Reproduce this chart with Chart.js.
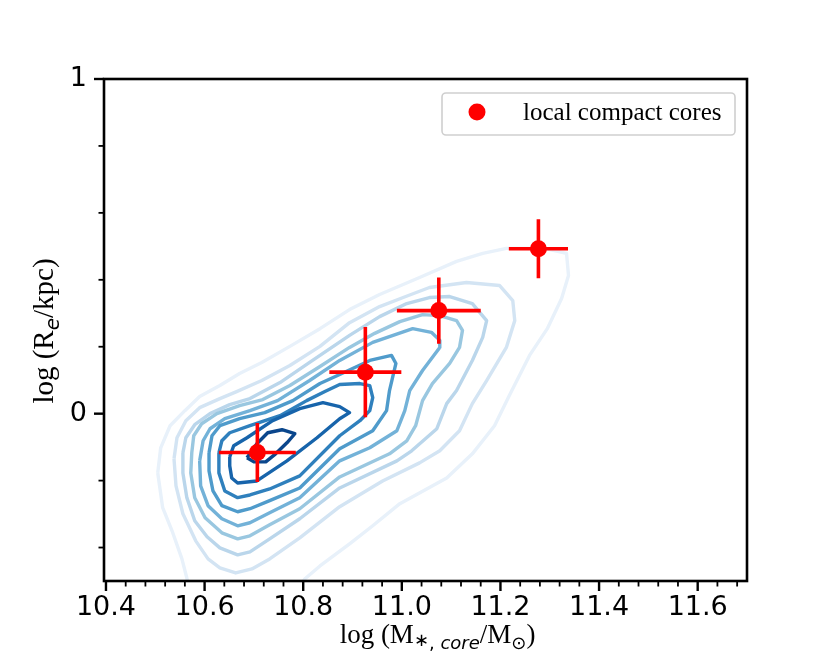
<!DOCTYPE html>
<html lang="en">
<head>
<meta charset="UTF-8">
<title>Compact cores: size vs core mass</title>
<script src="https://cdn.jsdelivr.net/npm/chart.js"></script>
<style>
  html, body { margin: 0; padding: 0; background: #fff; }
</style>
</head>
<body>
<canvas id="sizeMass" width="830" height="664"></canvas>
<script>
// local compact cores: log core mass, log Re and their errors
const coreMass    = [10.707, 10.926, 11.075, 11.277];
const coreMassErr = [0.078, 0.073, 0.085, 0.060];
const coreRe      = [-0.116, 0.124, 0.308, 0.493];
const coreReErr   = [0.088, 0.135, 0.099, 0.088];

// density contours of the comparison sample, outermost (lightest) first
const kdeLevel1 = [[10.505,-0.177],[10.511,-0.102],[10.530,-0.036],[10.560,0.009],[10.590,0.051],[10.631,0.084],[10.671,0.120],[10.716,0.153],[10.773,0.201],[10.834,0.254],[10.894,0.311],[10.955,0.356],[11.036,0.407],[11.111,0.455],[11.164,0.479],[11.212,0.494],[11.289,0.494],[11.334,0.479],[11.338,0.413],[11.324,0.344],[11.295,0.254],[11.259,0.174],[11.218,0.054],[11.188,-0.036],[11.143,-0.120],[11.091,-0.192],[10.996,-0.269],[10.941,-0.335],[10.894,-0.389],[10.834,-0.455],[10.803,-0.494],[10.777,-0.560],[10.574,-0.560],[10.564,-0.491],[10.554,-0.434],[10.534,-0.350],[10.515,-0.281]];
const kdeLevel2 = [[10.538,-0.135],[10.544,-0.072],[10.562,-0.021],[10.590,0.018],[10.631,0.045],[10.665,0.066],[10.716,0.099],[10.773,0.144],[10.834,0.201],[10.894,0.272],[10.955,0.320],[11.008,0.350],[11.056,0.377],[11.131,0.392],[11.198,0.383],[11.225,0.338],[11.229,0.278],[11.212,0.198],[11.172,0.099],[11.143,0.030],[11.117,-0.051],[11.077,-0.111],[11.036,-0.147],[10.961,-0.201],[10.874,-0.278],[10.793,-0.371],[10.732,-0.434],[10.696,-0.464],[10.663,-0.476],[10.631,-0.461],[10.607,-0.434],[10.582,-0.380],[10.556,-0.299],[10.542,-0.216]];
const kdeLevel3 = [[10.556,-0.117],[10.562,-0.072],[10.580,-0.033],[10.611,0.000],[10.651,0.027],[10.692,0.045],[10.753,0.093],[10.813,0.153],[10.894,0.234],[10.955,0.290],[11.010,0.329],[11.056,0.347],[11.097,0.350],[11.143,0.329],[11.172,0.278],[11.164,0.228],[11.143,0.159],[11.111,0.069],[11.091,0.030],[11.071,-0.045],[11.020,-0.111],[10.990,-0.141],[10.874,-0.222],[10.793,-0.314],[10.732,-0.374],[10.692,-0.413],[10.667,-0.422],[10.631,-0.401],[10.605,-0.368],[10.580,-0.320],[10.564,-0.251],[10.556,-0.177]];
const kdeLevel4 = [[10.574,-0.117],[10.578,-0.066],[10.594,-0.030],[10.625,0.000],[10.671,0.024],[10.718,0.042],[10.773,0.084],[10.834,0.141],[10.894,0.198],[10.945,0.240],[10.996,0.275],[11.042,0.296],[11.077,0.293],[11.111,0.278],[11.123,0.249],[11.117,0.198],[11.097,0.150],[11.062,0.090],[11.042,0.039],[11.028,-0.036],[11.010,-0.081],[10.975,-0.120],[10.874,-0.189],[10.793,-0.284],[10.732,-0.332],[10.692,-0.365],[10.667,-0.374],[10.635,-0.356],[10.601,-0.311],[10.580,-0.251],[10.572,-0.177]];
const kdeLevel5 = [[10.590,-0.141],[10.597,-0.081],[10.611,-0.045],[10.641,-0.015],[10.692,0.009],[10.748,0.039],[10.813,0.099],[10.874,0.159],[10.941,0.213],[11.022,0.254],[11.060,0.243],[11.077,0.219],[11.077,0.198],[11.042,0.129],[11.016,0.069],[11.006,0.009],[10.990,-0.051],[10.935,-0.102],[10.874,-0.141],[10.793,-0.251],[10.732,-0.296],[10.692,-0.326],[10.667,-0.335],[10.635,-0.314],[10.607,-0.275],[10.592,-0.216]];
const kdeLevel6 = [[10.609,-0.117],[10.615,-0.066],[10.631,-0.036],[10.671,-0.015],[10.722,0.003],[10.779,0.039],[10.834,0.090],[10.874,0.117],[10.935,0.159],[10.979,0.174],[10.988,0.150],[10.975,0.069],[10.969,0.009],[10.941,-0.051],[10.915,-0.072],[10.874,-0.105],[10.793,-0.222],[10.732,-0.260],[10.692,-0.284],[10.667,-0.293],[10.635,-0.275],[10.617,-0.231],[10.609,-0.171]];
const kdeLevel7 = [[10.629,-0.117],[10.635,-0.081],[10.651,-0.057],[10.692,-0.036],[10.753,-0.006],[10.807,0.039],[10.844,0.066],[10.874,0.087],[10.915,0.090],[10.935,0.084],[10.941,0.048],[10.935,0.009],[10.915,-0.021],[10.874,-0.066],[10.793,-0.186],[10.732,-0.225],[10.692,-0.243],[10.667,-0.251],[10.641,-0.231],[10.629,-0.177]];
const kdeLevel8 = [[10.651,-0.129],[10.659,-0.096],[10.686,-0.072],[10.738,-0.021],[10.793,0.015],[10.840,0.033],[10.874,0.021],[10.894,0.003],[10.874,-0.015],[10.828,-0.072],[10.767,-0.141],[10.706,-0.201],[10.667,-0.207],[10.655,-0.192],[10.651,-0.156]];
const kdeLevel9 = [[10.686,-0.132],[10.706,-0.090],[10.728,-0.057],[10.757,-0.048],[10.783,-0.060],[10.767,-0.087],[10.744,-0.120],[10.724,-0.144],[10.700,-0.144]];
const kdeLevels = [kdeLevel1, kdeLevel2, kdeLevel3, kdeLevel4, kdeLevel5, kdeLevel6, kdeLevel7, kdeLevel8, kdeLevel9];
const kdeColors = ['#e8f1fa', '#d3e4f3', '#bad6eb', '#99c7e0', '#73b2d8', '#4f9bcb', '#2f80bd', '#1764ab', '#0a468c'];

// axis ticks
const xTickValues  = [10.4, 10.6, 10.8, 11.0, 11.2, 11.4, 11.6];
const xMinorValues = [10.44, 10.48, 10.52, 10.56, 10.64, 10.68, 10.72, 10.76, 10.84, 10.88, 10.92, 10.96,
                      11.04, 11.08, 11.12, 11.16, 11.24, 11.28, 11.32, 11.36, 11.44, 11.48, 11.52, 11.56, 11.64, 11.68];
const yTickValues  = [0, 1];
const yMinorValues = [-0.4, -0.2, 0.2, 0.4, 0.6, 0.8];

const serif = '"Liberation Serif", "DejaVu Serif", serif';
const sans = '"DejaVu Sans", sans-serif';

// error bars as short line pieces, separated by gaps
const errData = [];
coreMass.forEach((m, i) => {
    errData.push({x: m - coreMassErr[i], y: coreRe[i]}, {x: m + coreMassErr[i], y: coreRe[i]}, {x: m, y: null});
    errData.push({x: m, y: coreRe[i] - coreReErr[i]}, {x: m, y: coreRe[i] + coreReErr[i]}, {x: m, y: null});
});

const contourSets = kdeLevels.map((lvl, i) => ({
    type: 'line',
    label: 'density level ' + (i + 1),
    data: lvl.concat([lvl[0]]).map(p => ({x: p[0], y: p[1]})),
    borderColor: kdeColors[i],
    borderWidth: 3.4,
    borderJoinStyle: 'round',
    pointRadius: 0,
    fill: false,
    tension: 0,
    clip: 0,
    order: 20 - i
}));

// rich text with sub-scripts, centred on x, baseline on y
function drawParts(ctx, parts, x, y) {
    let w = 0;
    parts.forEach(p => { ctx.font = p.font; p.w = ctx.measureText(p.text).width; w += p.w; });
    let cx = x - w / 2;
    ctx.textAlign = 'left';
    ctx.textBaseline = 'alphabetic';
    parts.forEach(p => { ctx.font = p.font; ctx.fillText(p.text, cx, y + (p.dy || 0)); cx += p.w; });
}

const frameAndTicks = {
    id: 'frameAndTicks',
    afterDatasetsDraw(chart) {
        const {ctx, chartArea: a, scales: {x, y}} = chart;
        ctx.save();
        ctx.strokeStyle = '#000';
        ctx.lineCap = 'butt';
        const seg = (x1, y1, x2, y2, lw) => {
            ctx.lineWidth = lw;
            ctx.beginPath(); ctx.moveTo(x1, y1); ctx.lineTo(x2, y2); ctx.stroke();
        };
        xTickValues.forEach(v => { const px = x.getPixelForValue(v); seg(px, a.bottom, px, a.bottom + 10, 2.4); });
        xMinorValues.forEach(v => { const px = x.getPixelForValue(v); seg(px, a.bottom, px, a.bottom + 5.5, 1.8); });
        yTickValues.forEach(v => { const py = y.getPixelForValue(v); seg(a.left, py, a.left - 10, py, 2.4); });
        yMinorValues.forEach(v => { const py = y.getPixelForValue(v); seg(a.left, py, a.left - 5.5, py, 1.8); });
        ctx.lineWidth = 2.6;
        ctx.strokeRect(a.left, a.top, a.right - a.left, a.bottom - a.top);
        ctx.restore();
    },
    afterDraw(chart) {
        const {ctx, chartArea: a} = chart;
        ctx.save();
        ctx.fillStyle = '#000';
        // x title: log (M*,core / Msun)
        drawParts(ctx, [
            {text: 'log (M', font: '27px ' + serif},
            {text: '∗', font: '18px ' + sans, dy: 3},
            {text: ', ', font: '18px ' + sans, dy: 6},
            {text: 'core', font: 'italic 18px ' + sans, dy: 6},
            {text: '/M', font: '27px ' + serif},
            {text: '⊙', font: '18px ' + sans, dy: 6},
            {text: ')', font: '27px ' + serif}
        ], (a.left + a.right) / 2 + 12, a.bottom + 62);
        // y title: log (Re / kpc)
        ctx.save();
        ctx.translate(a.left - 51, (a.top + a.bottom) / 2 + 1);
        ctx.rotate(-Math.PI / 2);
        drawParts(ctx, [
            {text: 'log (R', font: '29px ' + serif},
            {text: 'e', font: 'italic 20px ' + sans, dy: 6},
            {text: '/kpc)', font: '29px ' + serif}
        ], 0, 0);
        ctx.restore();

        // legend box, upper right
        const ds = chart.data.datasets[0];
        const left = a.right - 305, top = a.top + 14, w = 293, h = 42;
        ctx.fillStyle = 'rgba(255,255,255,0.8)';
        ctx.strokeStyle = '#cfcfcf';
        ctx.lineWidth = 1.6;
        ctx.beginPath();
        ctx.roundRect(left, top, w, h, 4);
        ctx.fill();
        ctx.stroke();
        ctx.fillStyle = ds.backgroundColor;
        ctx.beginPath();
        ctx.arc(left + 35, top + 19, ds.pointRadius, 0, Math.PI * 2);
        ctx.fill();
        ctx.fillStyle = '#000';
        ctx.font = '25px ' + serif;
        ctx.textAlign = 'left';
        ctx.textBaseline = 'alphabetic';
        ctx.fillText(ds.label, left + 81, top + 27);
        ctx.restore();
    }
};

new Chart(document.getElementById('sizeMass'), {
    type: 'scatter',
    data: {
        datasets: [
            {
                label: 'local compact cores',
                data: coreMass.map((m, i) => ({x: m, y: coreRe[i]})),
                backgroundColor: '#ff0000',
                borderWidth: 0,
                pointRadius: 8.5,
                order: 0
            },
            {
                type: 'line',
                label: 'errors',
                data: errData,
                borderColor: '#ff0000',
                borderWidth: 3.6,
                borderCapStyle: 'butt',
                pointRadius: 0,
                spanGaps: false,
                fill: false,
                order: 1
            },
            ...contourSets
        ]
    },
    options: {
        responsive: false,
        animation: false,
        events: [],
        layout: {padding: {left: 0, right: 83, top: 79, bottom: 0}},
        plugins: {legend: {display: false}, tooltip: {enabled: false}},
        scales: {
            x: {
                type: 'linear',
                min: 10.396,
                max: 11.7,
                grid: {display: false, drawTicks: false},
                border: {display: false},
                afterBuildTicks: s => { s.ticks = xTickValues.map(v => ({value: v})); },
                afterFit: s => { s.height = 83; },
                ticks: {
                    autoSkip: false,
                    maxRotation: 0,
                    padding: 11,
                    color: '#000',
                    font: {family: 'DejaVu Sans', size: 27},
                    callback: v => v.toFixed(1)
                }
            },
            y: {
                type: 'linear',
                min: -0.5,
                max: 1,
                grid: {display: false, drawTicks: false},
                border: {display: false},
                afterBuildTicks: s => { s.ticks = yTickValues.map(v => ({value: v})); },
                afterFit: s => { s.width = 104; },
                ticks: {
                    autoSkip: false,
                    padding: 17,
                    color: '#000',
                    font: {family: 'DejaVu Sans', size: 27},
                    callback: v => v.toFixed(0)
                }
            }
        }
    },
    plugins: [frameAndTicks]
});
</script>
</body>
</html>
